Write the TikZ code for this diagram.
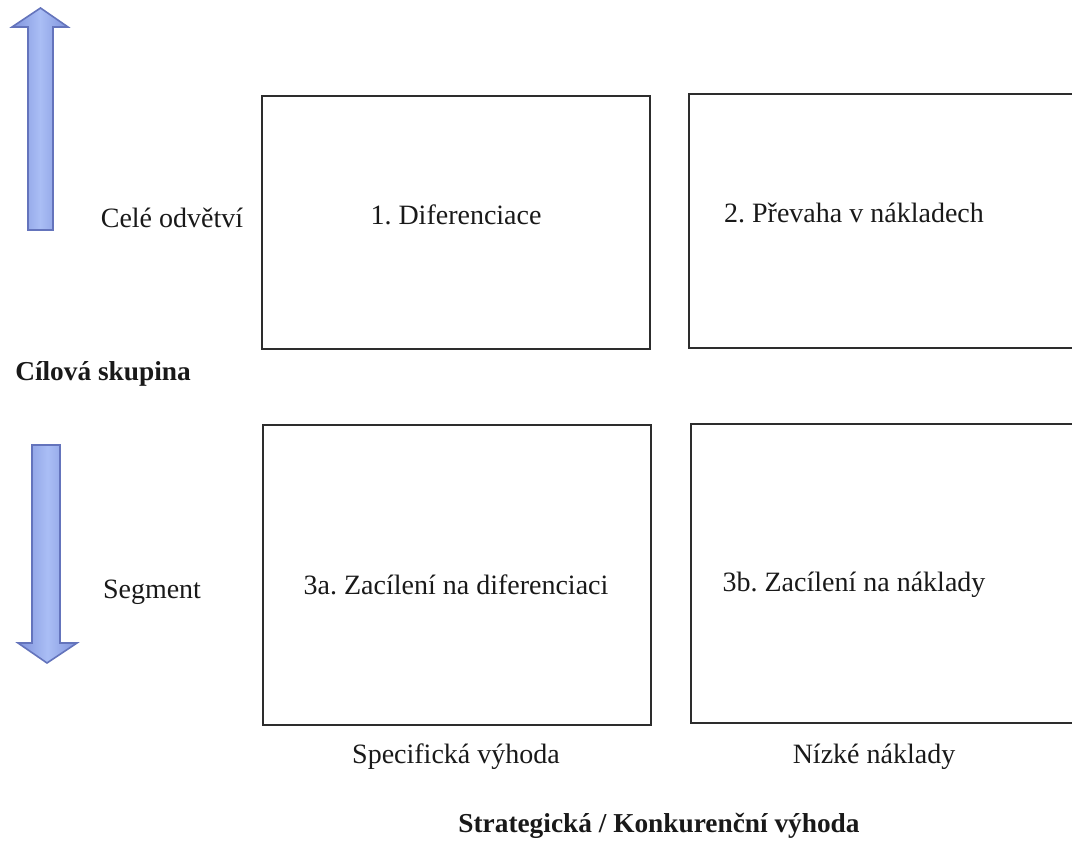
\documentclass[tikz,border=0pt]{standalone}
\usepackage{fontspec}
\setmainfont{Liberation Serif}
\frenchspacing
\begin{document}
\begin{tikzpicture}[x=0.75pt,y=-0.75pt,
  cell/.style={draw={rgb,255:red,45;green,45;blue,45},line width=1.5pt,inner sep=0pt},
  lbl/.style={font=\fontsize{21}{25}\selectfont,text={rgb,255:red,25;green,25;blue,25},inner sep=0pt},
  blbl/.style={lbl,font=\fontsize{20.5}{25}\selectfont\bfseries},
  bluearrow/.style={draw={rgb,255:red,100;green,116;blue,188},line width=1.2pt,
    left color={rgb,255:red,128;green,147;blue,220},right color={rgb,255:red,128;green,147;blue,220},
    middle color={rgb,255:red,170;green,190;blue,245}}]
\useasboundingbox (0,0) rectangle (1072,865);
\clip (0,0) rectangle (1072,865);

% quadrant frames
\draw[cell] (262,96) rectangle (650,349);
\draw[cell] (689,94) rectangle (1090,348);
\draw[cell] (263,425) rectangle (651,725);
\draw[cell] (691,424) rectangle (1090,723);

% quadrant captions
\node[lbl] (q1) at (456,215) {1. Diferenciace};
\node[lbl] (q2) at (854,213) {2. Převaha v nákladech};
\node[lbl] (q3a) at (456,585) {3a. Zacílení na diferenciaci};
\node[lbl] (q3b) at (854,585) {3b. Zacílení na náklady};

% row labels
\node[lbl] (whole) at (172,218) {Celé odvětví};
\node[lbl] (seg) at (152,592) {Segment};
\node[blbl,anchor=west] (target) at (15,374) {Cílová skupina};

% column labels
\node[lbl] (spec) at (456,757) {Specifická výhoda};
\node[lbl] (low) at (874,757) {Nízké náklady};
\node[blbl] (strat) at (659,826) {Strategická / Konkurenční výhoda};

% block arrows
\path[bluearrow] (28,230) -- (28,27) -- (12,27) -- (40.5,8) -- (68,27) -- (53,27) -- (53,230) -- cycle;
\path[bluearrow] (32,445) -- (60,445) -- (60,643) -- (77,643) -- (47,663) -- (18,643) -- (32,643) -- cycle;
\end{tikzpicture}
\end{document}
